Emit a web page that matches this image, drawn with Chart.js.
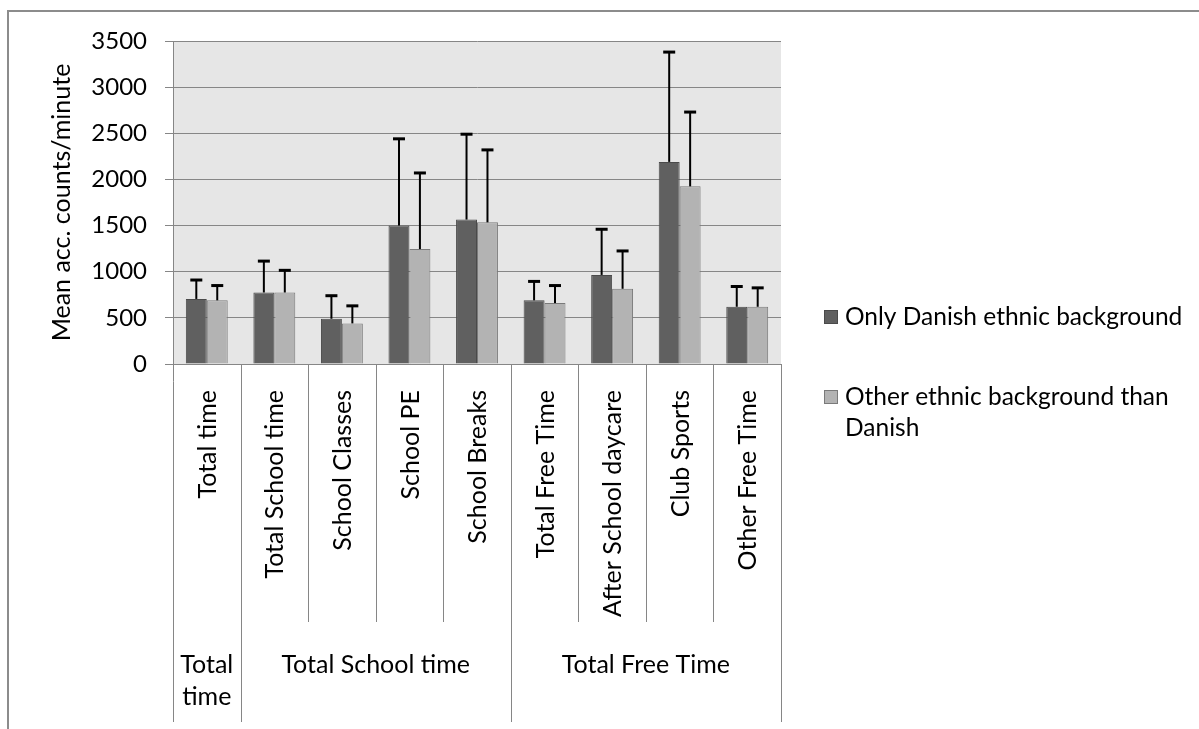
<!DOCTYPE html>
<html lang="en">
<head>
<meta charset="utf-8">
<title>Mean acc. counts/minute by ethnic background</title>
<script src="https://cdn.jsdelivr.net/npm/chart.js@4.4.0/dist/chart.umd.min.js"></script>
<style>
  html, body { margin: 0; padding: 0; background: #fff; }
  #wrap { width: 1199px; height: 729px; }
</style>
</head>
<body>
<div id="wrap"><canvas id="myChart" width="1199" height="729"></canvas></div>
<script>
// categories on the x axis
var categories = ['Total time', 'Total School time', 'School Classes', 'School PE', 'School Breaks',
                  'Total Free Time', 'After School daycare', 'Club Sports', 'Other Free Time'];
// group row below the categories
var groupLabels = [['Total', 'time'], ['Total School time'], ['Total Free Time']];
var groupSpans = [1, 4, 4];

var seriesNames = ['Only Danish ethnic background', 'Other ethnic background than Danish'];
var danishMean = [705, 775, 490, 1500, 1565, 690, 965, 2190, 620];
var danishSD   = [205, 340, 250, 940, 925, 205, 495, 1190, 220];
var otherMean  = [690, 775, 440, 1245, 1535, 660, 815, 1925, 620];
var otherSD    = [160, 240, 190, 825, 785, 190, 410, 805, 205];

var yTicks = [0, 500, 1000, 1500, 2000, 2500, 3000, 3500];

var FONT = 'Lato, "Open Sans", sans-serif';
var lineGrey = '#868686';

// frame, plot background
var backdrop = {
  id: 'backdrop',
  beforeDraw: function(chart) {
    var c = chart.ctx, a = chart.chartArea;
    c.save();
    c.fillStyle = '#e6e6e6';
    c.fillRect(a.left, a.top, a.right - a.left, a.bottom - a.top);
    c.strokeStyle = '#8c8c8c';
    c.lineWidth = 2;
    c.beginPath();
    c.moveTo(1199, 11);
    c.lineTo(8, 11);
    c.lineTo(8, 729);
    c.stroke();
    c.restore();
  }
};

// upward error bars
var errorBars = {
  id: 'errorBars',
  afterDatasetsDraw: function(chart) {
    var c = chart.ctx, y = chart.scales.y;
    c.save();
    c.strokeStyle = '#000';
    chart.data.datasets.forEach(function(ds, di) {
      var meta = chart.getDatasetMeta(di);
      meta.data.forEach(function(bar, i) {
        var top = y.getPixelForValue(ds.data[i] + ds.errors[i]);
        c.lineWidth = 2;
        c.beginPath();
        c.moveTo(bar.x, bar.y);
        c.lineTo(bar.x, top);
        c.stroke();
        c.lineWidth = 3;
        c.beginPath();
        c.moveTo(bar.x - 6, top);
        c.lineTo(bar.x + 6, top);
        c.stroke();
      });
    });
    c.restore();
  }
};

// category + group axis and legend
var axisAndLegend = {
  id: 'axisAndLegend',
  afterDraw: function(chart) {
    var c = chart.ctx, a = chart.chartArea, x = chart.scales.x;
    var step = x.getPixelForValue(1) - x.getPixelForValue(0);
    var shortEnd = 622, longEnd = 722;
    c.save();
    c.strokeStyle = lineGrey;
    c.lineWidth = 1;
    // boundaries
    var groupEdges = [0];
    groupSpans.forEach(function(s, gi) { groupEdges.push(groupEdges[gi] + s); });
    for (var i = 0; i <= categories.length; i++) {
      var bx = Math.round(x.getPixelForValue(i) - step / 2) + 0.5;
      var isGroup = groupEdges.indexOf(i) >= 0;
      c.beginPath();
      c.moveTo(bx, i === 0 ? a.top : a.bottom);
      c.lineTo(bx, isGroup ? longEnd : shortEnd);
      c.stroke();
    }
    c.beginPath();
    c.moveTo(a.left - 8, a.bottom + 0.5);
    c.lineTo(a.right, a.bottom + 0.5);
    c.stroke();

    // rotated category labels
    c.fillStyle = '#000';
    c.font = '25px ' + FONT;
    c.textAlign = 'right';
    c.textBaseline = 'middle';
    categories.forEach(function(lab, i) {
      c.save();
      c.translate(x.getPixelForValue(i) + 1, 390);
      c.rotate(-Math.PI / 2);
      c.fillText(lab, 0, 0);
      c.restore();
    });

    // group labels
    c.textAlign = 'center';
    groupLabels.forEach(function(lines, gi) {
      var x0 = x.getPixelForValue(groupEdges[gi]) - step / 2;
      var x1 = x.getPixelForValue(groupEdges[gi + 1]) - step / 2;
      lines.forEach(function(t, li) {
        c.fillText(t, (x0 + x1) / 2, 665 + li * 32);
      });
    });

    // legend
    var ds = chart.data.datasets;
    var rows = [[seriesNames[0]], ['Other ethnic background than', 'Danish']];
    var ly = [317, 397];
    c.font = '24.5px ' + FONT;
    c.textAlign = 'left';
    ds.forEach(function(d, di) {
      c.fillStyle = d.backgroundColor;
      c.fillRect(824, ly[di] - 7, 14, 14);
      c.strokeStyle = d.borderColor;
      c.strokeRect(824.5, ly[di] - 6.5, 13, 13);
      c.fillStyle = '#000';
      rows[di].forEach(function(t, li) {
        c.fillText(t, 845, ly[di] + li * 31);
      });
    });
    c.restore();
  }
};

var ctx = document.getElementById('myChart').getContext('2d');

var config = {
  type: 'bar',
  data: {
    labels: categories,
    datasets: [{
      label: seriesNames[0],
      data: danishMean,
      errors: danishSD,
      backgroundColor: '#606060',
      borderColor: '#4a4a4a',
      borderWidth: 1
    }, {
      label: seriesNames[1],
      data: otherMean,
      errors: otherSD,
      backgroundColor: '#b3b3b3',
      borderColor: '#7a7a7a',
      borderWidth: 1
    }]
  },
  options: {
    responsive: false,
    animation: false,
    devicePixelRatio: 1,
    layout: { padding: { top: 41, right: 418, bottom: 365, left: 0 } },
    datasets: { bar: { barPercentage: 1, categoryPercentage: 0.62 } },
    plugins: { legend: { display: false }, tooltip: { enabled: false } },
    scales: {
      x: { display: false },
      y: {
        min: 0,
        max: 3500,
        afterBuildTicks: function(scale) {
          scale.ticks = yTicks.map(function(v) { return { value: v }; });
        },
        afterFit: function(scale) { scale.width = 173; },
        grid: { color: lineGrey, tickLength: 8, drawTicks: true },
        border: { display: true, color: lineGrey },
        ticks: {
          color: '#000',
          padding: 18,
          font: { family: FONT, size: 24 },
          callback: function(v) { return String(v); }
        },
        title: {
          display: true,
          text: 'Mean acc. counts/minute',
          color: '#000',
          padding: { top: 47, bottom: 0 },
          font: { family: FONT, size: 25 }
        }
      }
    }
  },
  plugins: [backdrop, errorBars, axisAndLegend]
};

var chart = new Chart(ctx, config);
</script>
</body>
</html>
